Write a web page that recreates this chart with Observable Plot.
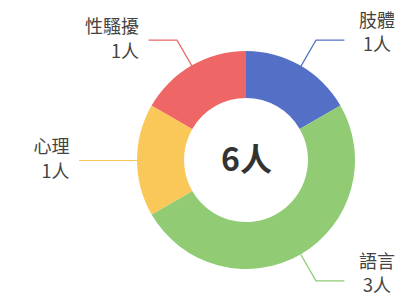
<!DOCTYPE html>
<html>
<head>
<meta charset="utf-8">
<script src="https://cdn.jsdelivr.net/npm/d3@7"></script>
<script src="https://cdn.jsdelivr.net/npm/@observablehq/plot@0.6"></script>
<style>
  html, body { margin: 0; padding: 0; background: #fff; }
  #chart { width: 405px; height: 298px; }
</style>
</head>
<body>
<div id="chart"></div>
<script>
// ---- data ----
const categories = ["肢體", "語言", "心理", "性騷擾"];
const values = [1, 3, 1, 1];
const colors = ["#5470c6", "#91cc75", "#fac858", "#ee6666"];
const unit = "人";

// ---- layout ----
const W = 405, H = 298;
const cx = 246, cy = 160;      // pie centre (px)
const R = 109, R0 = 62;         // outer / inner radius (px)
const elbowPx = 30, armPx = 28; // label line geometry (px)

const data = categories.map((c, i) => ({cat: c, value: values[i], color: colors[i]}));
const total = d3.sum(values);
const arcs = d3.pie().sort(null).value(d => d.value)(data);

// label line points in unit coordinates (1 = outer radius, y up)
const lineData = [];
const labelData = [];
arcs.forEach(a => {
  const m = (a.startAngle + a.endAngle) / 2;
  const sx = Math.sin(m), sy = Math.cos(m);
  const e = (R + elbowPx) / R;
  const side = sx >= 0 ? 1 : -1;
  const p0 = {x: sx, y: sy};
  const p1 = {x: sx * e, y: sy * e};
  const p2 = {x: sx * e + side * armPx / R, y: sy * e};
  [p0, p1, p2].forEach(p => lineData.push({...p, cat: a.data.cat}));
  labelData.push({
    x: side > 0 ? p2.x + 33 / R : p2.x - 10 / R,
    y: p2.y,
    side,
    text: a.data.cat + "\n" + a.data.value + unit
  });
});

const pieMark = (index, scales, values, dimensions, context) => {
  const x = scales.x, y = scales.y;
  const px0 = x(0), py0 = y(0);
  const rOut = x(1) - x(0);
  const rIn = rOut * R0 / R;
  const arcGen = d3.arc().innerRadius(rIn).outerRadius(rOut);
  const g = d3.create("svg:g").attr("transform", `translate(${px0},${py0})`);
  g.selectAll("path").data(arcs).join("path")
    .attr("d", arcGen)
    .attr("fill", d => d.data.color);
  return g.node();
};

const chart = Plot.plot({
  width: W,
  height: H,
  margin: 0,
  style: {fontFamily: "'Noto Sans CJK TC', 'Noto Sans', sans-serif", background: "#fff"},
  x: {domain: [-cx / R, (W - cx) / R], range: [0, W], axis: null},
  y: {domain: [cy / R, (cy - H) / R], range: [0, H], axis: null},
  color: {domain: categories, range: colors},
  marks: [
    pieMark,
    Plot.line(lineData, {x: "x", y: "y", z: "cat", stroke: "cat", strokeWidth: 1.2}),
    Plot.text(labelData.filter(d => d.side > 0), {
      x: "x", y: "y", text: "text", textAnchor: "middle", lineAnchor: "middle",
      lineHeight: 1.35, fontSize: 18, fill: "#444", dy: -9
    }),
    Plot.text(labelData.filter(d => d.side < 0), {
      x: "x", y: "y", text: "text", textAnchor: "end", lineAnchor: "middle",
      lineHeight: 1.4, fontSize: 18, fill: "#444", dy: -3
    }),
    Plot.text([total + unit], {
      x: () => 0, y: () => 0, text: d => d, fontSize: 32, fontWeight: "bold",
      fill: "#333", lineAnchor: "middle"
    })
  ]
});
document.getElementById("chart").appendChild(chart);
</script>
</body>
</html>
